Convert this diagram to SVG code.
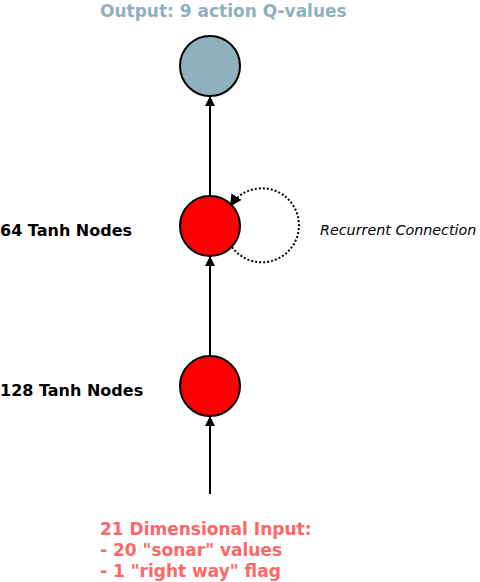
<svg xmlns="http://www.w3.org/2000/svg" width="480" height="582" viewBox="0 0 480 582">
<defs>
<marker id="arr" markerWidth="10" markerHeight="10" refX="9" refY="5" orient="auto" markerUnits="userSpaceOnUse">
<path d="M0,0 L10,5 L0,10 Z" fill="#000"/>
</marker>
<marker id="arr2" markerWidth="12" markerHeight="12" refX="10" refY="6" orient="auto" markerUnits="userSpaceOnUse">
<path d="M0,0 L12,6 L0,12 Z" fill="#000"/>
</marker>
<style>
.node{stroke:#000;stroke-width:2}
.lbl{font-family:"DejaVu Sans",sans-serif;font-weight:bold;font-size:16px;fill:#000}
.big{font-family:"DejaVu Sans",sans-serif;font-weight:bold;font-size:17px}
.edge{stroke:#000;stroke-width:2;fill:none}
</style>
</defs>
<rect width="480" height="582" fill="#fff"/>
<g id="connectors">
<line class="edge" x1="210" y1="494" x2="210" y2="417" marker-end="url(#arr)"/>
<line class="edge" x1="210" y1="356" x2="210" y2="257" marker-end="url(#arr)"/>
<line class="edge" x1="210" y1="196" x2="210" y2="97" marker-end="url(#arr)"/>
<path class="edge" stroke-dasharray="2,2" d="M232,247 A37,37 0 1 0 231,205" marker-end="url(#arr2)"/>
</g>
<g id="output">
<circle class="node" cx="210" cy="66" r="30" fill="#8fb0bd"/>
<text class="big" x="100" y="17" fill="#8fb0bd">Output: 9 action Q-values</text>
</g>
<g id="hidden64">
<circle class="node" cx="210" cy="226" r="30" fill="#ff0000"/>
<text class="lbl" x="0" y="236">64 Tanh Nodes</text>
<text x="320" y="235" font-family="DejaVu Sans,sans-serif" font-style="italic" font-size="14.3">Recurrent Connection</text>
</g>
<g id="hidden128">
<circle class="node" cx="210" cy="386" r="30" fill="#ff0000"/>
<text class="lbl" x="0" y="396">128 Tanh Nodes</text>
</g>
<g id="input">
<text class="big" fill="#ff6666"><tspan x="100" y="535">21 Dimensional Input:</tspan><tspan x="100" y="556">- 20 "sonar" values</tspan><tspan x="100" y="577">- 1 "right way" flag</tspan></text>
</g>
</svg>
